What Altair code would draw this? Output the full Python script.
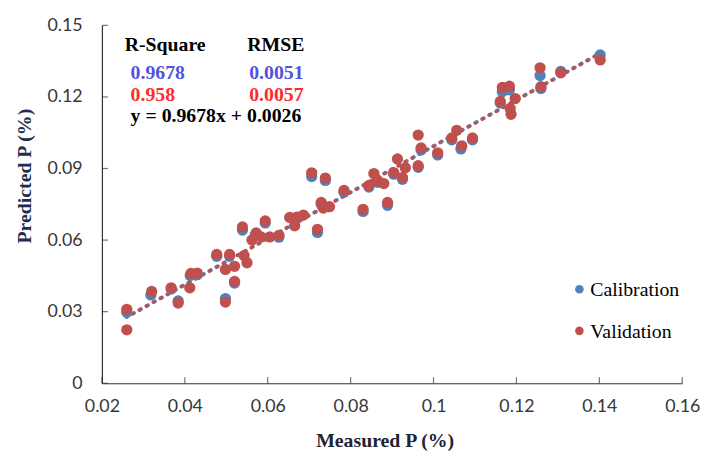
import altair as alt
import pandas as pd

# ---------------- data ----------------
val_x = [0.0260, 0.0260, 0.0320, 0.0367, 0.0384, 0.0412, 0.0415, 0.0430, 0.0477, 0.0498,
         0.0508, 0.0498, 0.0520, 0.0520, 0.0543, 0.0550, 0.0539, 0.0572, 0.0562, 0.0594,
         0.0584, 0.0605, 0.0627, 0.0653, 0.0670, 0.0665, 0.0686, 0.0706, 0.0739, 0.0784,
         0.0729, 0.0734, 0.0749, 0.0720, 0.0830, 0.0844, 0.0856, 0.0865, 0.0880, 0.0889,
         0.0904, 0.0913, 0.0925, 0.0932, 0.0963, 0.0963, 0.0970, 0.1010, 0.1044, 0.1056,
         0.1068, 0.1094, 0.1161, 0.1166, 0.1183, 0.1197, 0.1185, 0.1187, 0.1257, 0.1259,
         0.1307, 0.1402]
val_y = [0.0310, 0.0224, 0.0385, 0.0400, 0.0336, 0.0400, 0.0460, 0.0462, 0.0540, 0.0340,
         0.0540, 0.0477, 0.0490, 0.0427, 0.0535, 0.0505, 0.0655, 0.0630, 0.0600, 0.0680,
         0.0613, 0.0613, 0.0620, 0.0695, 0.0696, 0.0660, 0.0705, 0.0882, 0.0860, 0.0808,
         0.0758, 0.0734, 0.0740, 0.0645, 0.0729, 0.0829, 0.0879, 0.0850, 0.0837, 0.0758,
         0.0883, 0.0940, 0.0862, 0.0903, 0.1040, 0.0912, 0.0986, 0.0966, 0.1028, 0.1060,
         0.0995, 0.1028, 0.1181, 0.1240, 0.1245, 0.1193, 0.1152, 0.1127, 0.1322, 0.1243,
         0.1301, 0.1355]

cal_x = [0.0260, 0.0318, 0.0367, 0.0384, 0.0413, 0.0430, 0.0477, 0.0498, 0.0520, 0.0508,
         0.0539, 0.0570, 0.0594, 0.0627, 0.0670, 0.0706, 0.0739, 0.0720, 0.0729, 0.0784,
         0.0830, 0.0844, 0.0865, 0.0889, 0.0904, 0.0925, 0.0963, 0.0970, 0.1010, 0.1044,
         0.1066, 0.1094, 0.1161, 0.1166, 0.1183, 0.1257, 0.1259, 0.1307, 0.1402]
cal_y = [0.0298, 0.0370, 0.0395, 0.0345, 0.0452, 0.0455, 0.0532, 0.0355, 0.0420, 0.0532,
         0.0642, 0.0622, 0.0672, 0.0612, 0.0690, 0.0866, 0.0850, 0.0632, 0.0750, 0.0800,
         0.0720, 0.0822, 0.0842, 0.0746, 0.0876, 0.0855, 0.0905, 0.0978, 0.0957, 0.1020,
         0.0982, 0.1020, 0.1175, 0.1222, 0.1230, 0.1290, 0.1235, 0.1307, 0.1376]

series_names = ["Calibration", "Validation"]
x_ticks = [0.02, 0.04, 0.06, 0.08, 0.1, 0.12, 0.14, 0.16]
y_ticks = [0, 0.03, 0.06, 0.09, 0.12, 0.15]

slope, intercept = 0.9678, 0.0026

ann_text = ["R-Square", "RMSE", "0.9678", "0.0051", "0.958", "0.0057", "y = 0.9678x + 0.0026"]
ann_x = [0.02549, 0.05506, 0.02692, 0.05554, 0.02692, 0.05554, 0.02692]
ann_y = [0.1392, 0.1392, 0.1276, 0.1276, 0.1185, 0.1185, 0.1096]
ann_grp = ["k", "k", "b", "b", "r", "r", "k"]

# legend anchor (data units): symbol position per series
leg_sym_x = [0.13519, 0.13519]
leg_sym_y = [0.03937, 0.02196]

# ---------------- styling ----------------
BLUE = "#4F81BD"
RED = "#C0504D"
W, H = 587, 362
AX = "#383838"
SERIF = "Liberation Serif"

pts = pd.concat([
    pd.DataFrame({"x": cal_x, "y": cal_y, "series": series_names[0]}),
    pd.DataFrame({"x": val_x, "y": val_y, "series": series_names[1]}),
], ignore_index=True)

xl = [min(cal_x), max(cal_x)]
trend = pd.DataFrame({"x": xl, "y": [slope * v + intercept for v in xl]})

ann = pd.DataFrame({"t": ann_text, "x": ann_x, "y": ann_y, "g": ann_grp})
leg = pd.DataFrame({"series": series_names, "x": leg_sym_x, "y": leg_sym_y})

x_axis = alt.Axis(values=x_ticks, format="~g", ticks=False, grid=False,
                  labelFlush=False, labelOverlap=False,
                  labelPadding=15, labelFont="Lato", labelFontSize=18, labelColor=AX,
                  domainColor="#333333", domainWidth=1.2,
                  title="Measured P (%)", titleFont=SERIF, titleFontSize=20,
                  titleFontWeight="bold", titleColor="#1E2433", titleX=286, titleY=64,
                  titleAlign="center", titleBaseline="alphabetic")
y_axis = alt.Axis(values=y_ticks, format="~g", ticks=False, grid=False,
                  labelFlush=False, labelOverlap=False,
                  labelPadding=20, labelFont="Lato", labelFontSize=18, labelColor=AX,
                  domainColor="#333333", domainWidth=1.2,
                  title="Predicted P (%)", titleFont=SERIF, titleFontSize=20,
                  titleFontWeight="bold", titleColor="#1F2D50", titleX=-72, titleY=152,
                  titleAlign="center", titleBaseline="alphabetic", titleAngle=-90)

X = alt.X("x:Q", scale=alt.Scale(domain=[0.02, 0.16], nice=False, zero=False), axis=x_axis)
Y = alt.Y("y:Q", scale=alt.Scale(domain=[0, 0.15], nice=False, zero=False), axis=y_axis)
COLOR = alt.Color("series:N", scale=alt.Scale(domain=series_names, range=[BLUE, RED]),
                  legend=None)

xt = alt.Chart(pd.DataFrame({"x": x_ticks})).mark_tick(
    orient="vertical", size=6, thickness=1.2, color="#333333"
).encode(x=X, y=alt.value(H - 3))

yt = alt.Chart(pd.DataFrame({"y": y_ticks})).mark_tick(
    orient="horizontal", size=6, thickness=1.2, color="#333333"
).encode(y=Y, x=alt.value(3))

line_cal = alt.Chart(trend).mark_line(
    color=BLUE, strokeWidth=4, strokeCap="round", strokeDash=[0.1, 8]
).encode(x=X, y=Y)
line_val = alt.Chart(trend).mark_line(
    color=RED, strokeWidth=4, strokeCap="round", strokeDash=[0.1, 8], strokeDashOffset=1.5
).encode(x=X, y=Y)

points = alt.Chart(pts).mark_circle(size=130, opacity=1).encode(x=X, y=Y, color=COLOR)

leg_sym = alt.Chart(leg).mark_circle(size=75, opacity=1).encode(x=X, y=Y, color=COLOR)
leg_txt = alt.Chart(leg).mark_text(
    font=SERIF, fontSize=20, fontWeight="normal", color="#000000",
    align="left", baseline="middle", dx=11, dy=1
).encode(x=X, y=Y, text="series:N")

def ann_layer(g, col):
    return alt.Chart(ann[ann["g"] == g]).mark_text(
        font=SERIF, fontSize=20, fontWeight="bold", color=col,
        align="left", baseline="alphabetic"
    ).encode(x=X, y=Y, text="t:N")

chart = alt.layer(
    line_cal, line_val, points, xt, yt, leg_sym, leg_txt,
    ann_layer("k", "#000000"), ann_layer("b", "#5252DC"), ann_layer("r", "#FF2B2B"),
).properties(
    width=W, height=H,
    autosize=alt.AutoSizeParams(type="none"),
    padding={"left": 95, "top": 15, "right": 22, "bottom": 68},
).configure_view(stroke=None)

chart.save("out.html", embed_options={"renderer": "svg", "actions": False})
